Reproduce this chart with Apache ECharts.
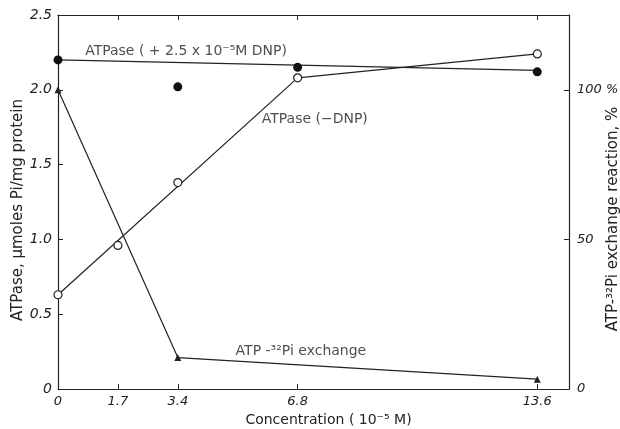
<!DOCTYPE html>
<html>
<head>
<meta charset="utf-8">
<script src="https://cdn.jsdelivr.net/npm/echarts@6/dist/echarts.min.js"></script>
<style>html,body{margin:0;padding:0;background:#fff;}#c{width:620px;height:429px;}</style>
</head>
<body>
<div id="c"></div>
<script>
// ---- data ----
var xTicks = [0, 1.7, 3.4, 6.8, 13.6];
var leftTicks = [0, 0.5, 1.0, 1.5, 2.0, 2.5];
var rightTicks = [0, 50, 100];

// ATPase (+2.5x10^-5 M DNP): filled circles
var dnpPlusX = [0, 3.4, 6.8, 13.6];
var dnpPlusY = [2.20, 2.02, 2.15, 2.12];
// fitted line for the DNP series
var dnpPlusLineX = [0, 13.6];
var dnpPlusLineY = [2.20, 2.13];

// ATPase (-DNP): open circles
var dnpMinusX = [0, 1.7, 3.4, 6.8, 13.6];
var dnpMinusY = [0.63, 0.96, 1.38, 2.08, 2.24];
// drawn line for the -DNP series
var dnpMinusLineX = [0, 6.8, 13.6];
var dnpMinusLineY = [0.63, 2.08, 2.24];

// ATP-32Pi exchange (% , right axis): triangles
var exchX = [0, 3.4, 13.6];
var exchY = [100, 10.5, 3.3];

// annotation texts with their data anchors
var annTexts = ['ATPase ( + 2.5 x 10\u207B\u2075M DNP)', 'ATPase (\u2212DNP)', 'ATP -\u00B3\u00B2Pi exchange'];
var annX = [0.77, 5.78, 5.04];
var annY = [2.26, 1.805, 0.254];

function pairs(xs, ys) { return xs.map(function (x, i) { return [x, ys[i]]; }); }

var ink = '#222';
var font = 'DejaVu Sans';

var chart = echarts.init(document.getElementById('c'), null, { renderer: 'canvas' });
function tick(vals) { return { show: true, inside: true, length: 5, lineStyle: { color: ink }, customValues: vals }; }
var line = { show: true, onZero: false, lineStyle: { color: ink, width: 1.2 } };

chart.setOption({
  animation: false,
  backgroundColor: '#fff',
  grid: { left: 58, right: 51, top: 15, bottom: 40, containLabel: false, outerBoundsMode: 'none' },
  xAxis: [
    {
      type: 'value', min: 0, max: 14.5, position: 'bottom', axisLine: line, splitLine: { show: false },
      name: 'Concentration ( 10\u207B\u2075 M)', nameLocation: 'middle', nameGap: 24, nameMoveOverlap: false,
      nameTextStyle: { color: ink, fontFamily: font, fontSize: 14, padding: [0, 0, 0, 30] },
      axisTick: tick(xTicks),
      axisLabel: { color: ink, fontFamily: font, fontSize: 13, margin: 6, customValues: xTicks, fontStyle: 'italic' }
    },
    {
      type: 'value', min: 0, max: 14.5, position: 'top', axisLine: line, splitLine: { show: false },
      axisTick: tick(xTicks),
      axisLabel: { show: false }
    }
  ],
  yAxis: [
    {
      type: 'value', min: 0, max: 2.5, position: 'left', axisLine: line, splitLine: { show: false },
      name: 'ATPase, \u03BCmoles Pi/mg protein', nameLocation: 'middle', nameGap: 32, nameRotate: 90, nameMoveOverlap: false,
      nameTextStyle: { color: ink, fontFamily: font, fontSize: 15, padding: [0, 16, 0, 0] },
      axisTick: tick(leftTicks),
      axisLabel: { color: ink, fontFamily: font, fontSize: 14, margin: 6, customValues: leftTicks, fontStyle: 'italic',
        formatter: function (v) { return v === 0 ? '0' : v.toFixed(1); } }
    },
    {
      type: 'value', min: 0, max: 125, position: 'right', axisLine: line, splitLine: { show: false },
      name: 'ATP-\u00B3\u00B2Pi exchange reaction, %', nameLocation: 'middle', nameGap: 37, nameRotate: 90, nameMoveOverlap: false,
      nameTextStyle: { color: ink, fontFamily: font, fontSize: 15, padding: [0, 34, 0, 0] },
      axisTick: tick(rightTicks),
      axisLabel: { color: ink, fontFamily: font, fontSize: 13, margin: 8, customValues: rightTicks, fontStyle: 'italic',
        formatter: function (v) { return v === 100 ? '100 %' : String(v); } }
    }
  ],
  series: [
    { type: 'line', xAxisIndex: 0, yAxisIndex: 0, data: pairs(dnpPlusLineX, dnpPlusLineY), showSymbol: false, symbol: 'none',
      lineStyle: { color: ink, width: 1.2 }, z: 2 },
    { type: 'line', xAxisIndex: 0, yAxisIndex: 0, data: pairs(dnpMinusLineX, dnpMinusLineY), showSymbol: false, symbol: 'none',
      lineStyle: { color: ink, width: 1.2 }, z: 2 },
    { type: 'line', xAxisIndex: 0, yAxisIndex: 1, data: pairs(exchX, exchY), symbol: 'triangle', symbolSize: 7,
      itemStyle: { color: ink }, lineStyle: { color: ink, width: 1.2 }, z: 3 },
    { type: 'scatter', xAxisIndex: 0, yAxisIndex: 0, data: pairs(dnpPlusX, dnpPlusY), symbol: 'circle', symbolSize: 9,
      itemStyle: { color: '#111', opacity: 1 }, z: 4 },
    { type: 'scatter', xAxisIndex: 0, yAxisIndex: 0, data: pairs(dnpMinusX, dnpMinusY), symbol: 'circle', symbolSize: 8,
      itemStyle: { color: '#fff', borderColor: ink, borderWidth: 1.2, opacity: 1 }, z: 4 },
    { type: 'scatter', xAxisIndex: 0, yAxisIndex: 0, symbolSize: 0, silent: true, z: 5,
      data: annX.map(function (x, i) { return { value: [x, annY[i]], name: annTexts[i] }; }),
      label: { show: true, position: 'right', distance: 0, color: ink, fontFamily: font, fontSize: 14,
        formatter: function (p) { return p.name; } } }
  ]
});
</script>
</body>
</html>
